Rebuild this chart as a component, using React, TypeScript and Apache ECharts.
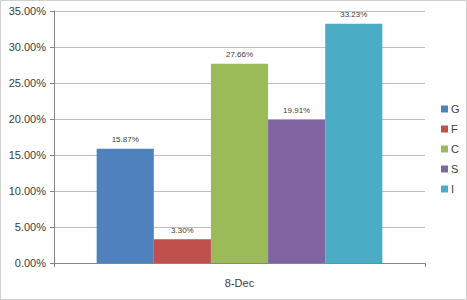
import React, { useEffect, useRef } from "react";
import * as echarts from "echarts";

const categories = ["8-Dec"];
const seriesNames = ["G", "F", "C", "S", "I"];
const seriesValues = [0.1587, 0.033, 0.2766, 0.1991, 0.3323];
const seriesColors = ["#4F81BD", "#C0504D", "#9BBB59", "#8064A2", "#4BACC6"];
const yTicks = { min: 0, max: 0.35, interval: 0.05 };

export default function App() {
  const ref = useRef<HTMLDivElement>(null);
  useEffect(() => {
    document.body.style.margin = "0";
    const chart = echarts.init(ref.current!, null, { renderer: "svg" });
    const font = "'Liberation Sans', Arial, sans-serif";
    chart.setOption({
      animation: false,
      backgroundColor: "#ffffff",
      textStyle: { fontFamily: font },
      graphic: [
        {
          type: "rect",
          shape: { x: 0.5, y: 0.5, width: 466, height: 299 },
          style: { fill: "none", stroke: "#d0d0d0", lineWidth: 1 },
          silent: true,
        },
      ],
      grid: { left: 54, right: 42, top: 11, bottom: 37 },
      legend: {
        orient: "vertical",
        left: 441,
        top: 103,
        padding: 0,
        icon: "rect",
        itemWidth: 7,
        itemHeight: 7,
        itemGap: 8,
        textStyle: { fontSize: 11, color: "#404040", fontFamily: font, lineHeight: 12, padding: [0, 0, 0, -2] },
        data: seriesNames,
      },
      xAxis: {
        type: "category",
        data: categories,
        axisLine: { show: true, lineStyle: { color: "#868686" } },
        axisTick: { show: true, length: 4, lineStyle: { color: "#868686" } },
        axisLabel: { fontSize: 11, color: "#404040", margin: 14 },
      },
      yAxis: {
        type: "value",
        min: yTicks.min,
        max: yTicks.max,
        interval: yTicks.interval,
        axisLine: { show: true, lineStyle: { color: "#868686" } },
        axisTick: { show: true, length: 4, lineStyle: { color: "#868686" } },
        splitLine: { lineStyle: { color: "#c0c0c0" } },
        axisLabel: {
          fontSize: 11,
          color: "#404040",
          margin: 8,
          formatter: (v: number) => (v * 100).toFixed(2) + "%",
        },
      },
      series: seriesNames.map((name, i) => ({
        name,
        type: "bar",
        barGap: "0%",
        barCategoryGap: "23%",
        itemStyle: { color: seriesColors[i] },
        label: {
          show: true,
          position: "top",
          fontSize: 8,
          color: "#404040",
          distance: 5,
          formatter: (p: any) => (p.value * 100).toFixed(2) + "%",
        },
        data: [seriesValues[i]],
      })),
    });
    return () => chart.dispose();
  }, []);
  return <div ref={ref} style={{ width: 467, height: 300 }} />;
}
